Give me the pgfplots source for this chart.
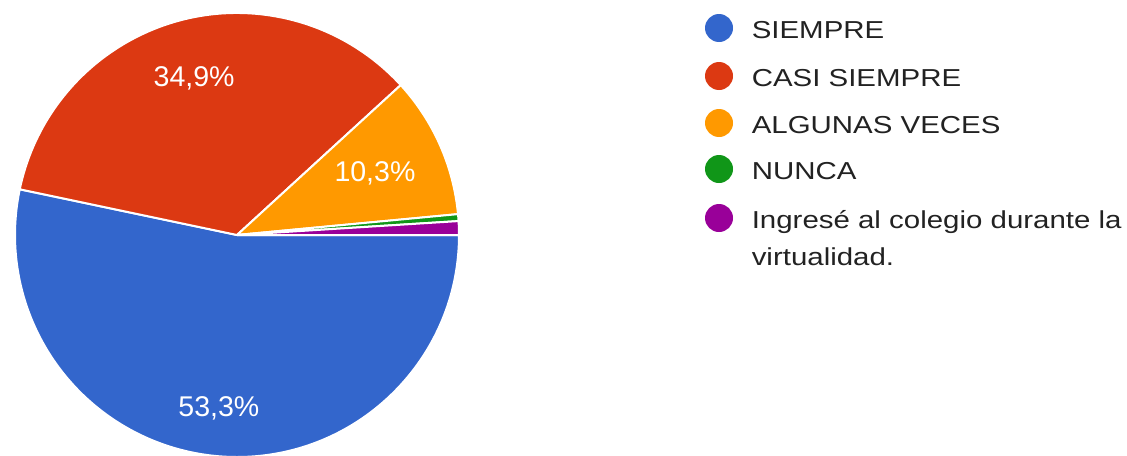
\documentclass[border=0pt]{standalone}
\usepackage{pgfplots}
\pgfplotsset{compat=1.18}
\usepackage{pgfplotstable}
\usepackage{fontspec}
\setmainfont{Liberation Sans}
\newfontfamily\legfont[FakeStretch=1.2]{Liberation Sans}
\definecolor{slice0}{HTML}{3366CC}
\definecolor{slice1}{HTML}{DC3912}
\definecolor{slice2}{HTML}{FF9900}
\definecolor{slice3}{HTML}{109618}
\definecolor{slice4}{HTML}{990099}
\definecolor{legtext}{HTML}{222222}
\newcommand\labfont{\fontsize{21.4pt}{21.4pt}\selectfont}
\newcommand\legsize{\legfont\fontsize{18.4pt}{18.4pt}\selectfont}
% PX{x}{y}: image pixel coordinates (y downward) -> pt
\newcommand\PX[2]{({#1*0.75pt},{(455-#2)*0.75pt})}

\pgfplotstableread{
value labelr
53.3 0.787
34.9 0.732
10.3 0.68
0.5 0
1.0 0
}\piedata

\begin{document}
\begin{tikzpicture}
\path[use as bounding box] (0,0) rectangle (845.25pt,341.25pt);
\clip (0,0) rectangle (845.25pt,341.25pt);
\begin{axis}[at={(177.75pt,165pt)}, anchor=center,
  width=333pt, height=333pt, scale only axis, hide axis,
  xmin=-1, xmax=1, ymin=-1, ymax=1, clip=false]
\gdef\cum{0}
\pgfplotsforeachungrouped \i in {0,...,4}{%
  \pgfplotstablegetelem{\i}{value}\of\piedata
  \let\v\pgfplotsretval
  \pgfmathsetmacro\a{-3.6*\cum}
  \pgfmathsetmacro\cumnew{\cum+\v}
  \pgfmathsetmacro\b{-3.6*\cumnew}
  \pgfmathsetmacro\sx{cos(\a)}
  \pgfmathsetmacro\sy{sin(\a)}
  \edef\cmd{\noexpand\fill[slice\i, draw=white, line width=1.5pt, line join=round] (axis cs:0,0) -- (axis cs:\sx,\sy) arc[start angle=\a, end angle=\b, radius=1] -- cycle;}%
  \cmd
  \global\let\cum\cumnew
}
\gdef\cum{0}
\pgfplotsforeachungrouped \i in {0,...,4}{%
  \pgfplotstablegetelem{\i}{value}\of\piedata
  \let\v\pgfplotsretval
  \pgfplotstablegetelem{\i}{labelr}\of\piedata
  \let\lr\pgfplotsretval
  \pgfmathsetmacro\a{-3.6*\cum}
  \pgfmathsetmacro\cumnew{\cum+\v}
  \pgfmathsetmacro\b{-3.6*\cumnew}
  \pgfmathsetmacro\m{(\a+\b)/2}
  \pgfmathsetmacro\lx{\lr*cos(\m)}
  \pgfmathsetmacro\ly{\lr*sin(\m)}
  \ifdim\v pt>5pt
  \edef\cmd{\noexpand\node[text=white, inner sep=0pt, font=\noexpand\labfont] at (axis cs:\lx,\ly) {\noexpand\pgfmathprintnumber[assume math mode=true,use comma,fixed,precision=1,fixed zerofill]{\v}\noexpand\%};}%
  \cmd
  \fi
  \global\let\cum\cumnew
}
\end{axis}
% legend
\fill[slice0] \PX{719}{28} circle (10.5pt);
\fill[slice1] \PX{719}{76} circle (10.5pt);
\fill[slice2] \PX{719}{123} circle (10.5pt);
\fill[slice3] \PX{719}{169} circle (10.5pt);
\fill[slice4] \PX{719}{218} circle (10.5pt);
\begin{scope}[every node/.style={anchor=base west, inner sep=0pt, text=legtext, font=\legsize}]
\node at \PX{751.5}{38.5} {SIEMPRE};
\node at \PX{751.5}{86.5} {CASI SIEMPRE};
\node at \PX{751.5}{133.5} {ALGUNAS VECES};
\node at \PX{751.5}{179.5} {NUNCA};
\node at \PX{751.5}{228.5} {Ingresé al colegio durante la};
\node at \PX{751.5}{265.5} {virtualidad.};
\end{scope}
\end{tikzpicture}
\end{document}
